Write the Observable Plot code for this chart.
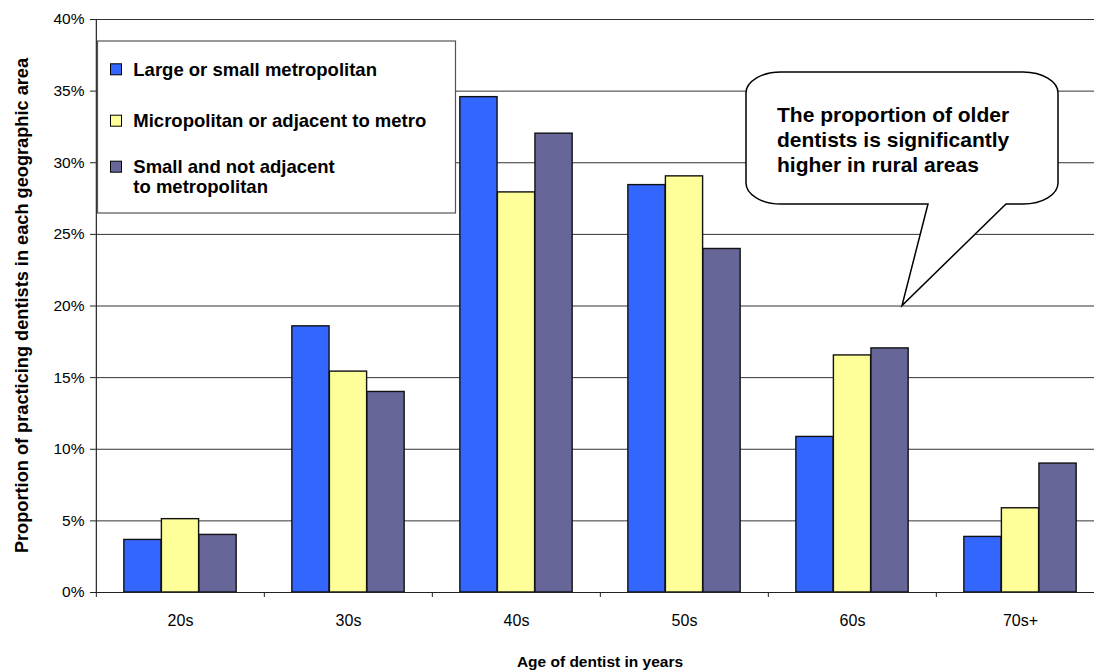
<!DOCTYPE html>
<html>
<head>
<meta charset="utf-8">
<script src="https://cdn.jsdelivr.net/npm/d3@7"></script>
<script src="https://cdn.jsdelivr.net/npm/@observablehq/plot@0.6"></script>
<style>
  html, body { margin: 0; padding: 0; background: #fff; overflow: hidden; }
  #wrap { width: 1094px; height: 672px; overflow: hidden; position: relative; }
  #wrap svg { display: block; max-width: none !important; width: 1105px !important; height: 672px !important; }
</style>
</head>
<body>
<div id="wrap"></div>
<script>
// ---- data ----
const ages = ["20s", "30s", "40s", "50s", "60s", "70s+"];
const seriesNames = [
  "Large or small metropolitan",
  "Micropolitan or adjacent to metro",
  "Small and not adjacent to metropolitan"
];
const legendLines = [
  ["Large or small metropolitan"],
  ["Micropolitan or adjacent to metro"],
  ["Small and not adjacent", "to metropolitan"]
];
const metroValues = [3.67, 18.58, 34.58, 28.44, 10.86, 3.88];
const microValues = [5.12, 15.42, 27.93, 29.05, 16.55, 5.88];
const ruralValues = [4.02, 14.00, 32.03, 23.98, 17.04, 9.00];
const yTicks = [0, 5, 10, 15, 20, 25, 30, 35, 40];
const seriesColors = ["#3366FF", "#FFFF99", "#666699"];
const calloutLines = [
  "The proportion of older",
  "dentists is significantly",
  "higher in rural areas"
];
const yTitle = "Proportion of practicing dentists in each geographic area";
const xTitle = "Age of dentist in years";

// ---- layout ----
const W = 1105, H = 672, ML = 95, MR = 0, MT = 19, MB = 80;
const FONT = "'Liberation Sans', Arial, sans-serif";
const bw = (W - ML - MR) / ages.length;
const groupPad = 0.1655 * bw;
const barW = (bw - 2 * groupPad) / 3;

const allValues = [metroValues, microValues, ruralValues];
const barMarks = allValues.map((vals, s) =>
  Plot.barY(ages.map((a, i) => ({age: a, value: vals[i], series: seriesNames[s]})), {
    x: "age",
    y: "value",
    fill: seriesColors[s],
    stroke: "#111",
    strokeWidth: 1.4,
    insetLeft: groupPad + barW * s,
    insetRight: bw - groupPad - barW * (s + 1)
  })
);

const plot = Plot.plot({
  width: W,
  height: H,
  marginLeft: ML,
  marginRight: MR,
  marginTop: MT,
  marginBottom: MB,
  style: {fontFamily: FONT, background: "#fff", overflow: "hidden", maxWidth: "none"},
  x: {type: "band", domain: ages, padding: 0},
  y: {domain: [0, 40]},
  marks: [
    Plot.ruleY(yTicks.filter(t => t > 0), {y: d => d, stroke: "#333", strokeWidth: 1}),
    ...barMarks,
    Plot.ruleY([0], {stroke: "#222", strokeWidth: 1.2}),
    Plot.ruleX([ages[0]], {x: d => d, y1: 0, y2: 40, dx: -bw / 2, stroke: "#222", strokeWidth: 1.2}),
    Plot.axisY({ticks: yTicks, tickSize: 5, tickPadding: 6, tickFormat: d => d + "%", fontSize: 15.5, color: "#000", stroke: "#222", label: null}),
    Plot.axisX({tickSize: 5, tickFormat: () => "", dx: -bw / 2, stroke: "#222", label: null}),
    Plot.axisX({tickSize: 0, tickPadding: 22, fontSize: 16, color: "#000", label: null})
  ]
});

document.getElementById("wrap").appendChild(plot);

const svg = d3.select(plot);
const yScale = plot.scale("y");
const y = v => (yScale.range[0] + (v - yScale.domain[0]) / (yScale.domain[1] - yScale.domain[0]) * (yScale.range[1] - yScale.range[0]));

// axis titles
svg.append("text")
  .attr("transform", `translate(28, ${(MT + (H - MB)) / 2}) rotate(-90)`)
  .attr("text-anchor", "middle")
  .attr("font-family", FONT).attr("font-weight", "bold").attr("font-size", 18.2)
  .attr("fill", "#000")
  .text(yTitle);

svg.append("text")
  .attr("x", ML + (W - ML - MR) / 2)
  .attr("y", 667)
  .attr("text-anchor", "middle")
  .attr("font-family", FONT).attr("font-weight", "bold").attr("font-size", 15.5)
  .attr("fill", "#000")
  .text(xTitle);

// legend
const lg = svg.append("g");
lg.append("rect").attr("x", 97.5).attr("y", 41).attr("width", 358).attr("height", 172)
  .attr("fill", "#fff").attr("stroke", "#555").attr("stroke-width", 1.2);
const swatchY = [69.3, 120.7, 166.7];
const textY = [75.7, 126.7, 173.3];
legendLines.forEach((lines, i) => {
  lg.append("rect").attr("x", 110.5).attr("y", swatchY[i] - 5.5).attr("width", 11).attr("height", 11)
    .attr("fill", seriesColors[i]).attr("stroke", "#000").attr("stroke-width", 1);
  lines.forEach((ln, j) => {
    lg.append("text").attr("x", 133.3).attr("y", textY[i] + j * 20)
      .attr("text-anchor", "start")
      .attr("font-family", FONT).attr("font-weight", "bold").attr("font-size", 18.5)
      .attr("fill", "#000").text(ln);
  });
});

// callout bubble
const tipX = 902, tipY = y(20);
const L = 746, R = 1058, T = 72, B = 204, rx = 35, ry = 21;
const path = [
  `M ${L + rx},${T}`, `H ${R - rx}`, `A ${rx} ${ry} 0 0 1 ${R},${T + ry}`,
  `V ${B - ry}`, `A ${rx} ${ry} 0 0 1 ${R - rx},${B}`,
  `H 1006`, `L ${tipX},${tipY}`, `L 928,${B}`,
  `H ${L + rx}`, `A ${rx} ${ry} 0 0 1 ${L},${B - ry}`,
  `V ${T + ry}`, `A ${rx} ${ry} 0 0 1 ${L + rx},${T}`, "Z"
].join(" ");
svg.append("path").attr("d", path).attr("fill", "#fff").attr("stroke", "#000").attr("stroke-width", 1.5);
calloutLines.forEach((ln, i) => {
  svg.append("text").attr("x", 777).attr("y", 121.7 + i * 25)
    .attr("text-anchor", "start")
    .attr("font-family", FONT).attr("font-weight", "bold").attr("font-size", 21)
    .attr("fill", "#000").text(ln);
});
</script>
</body>
</html>
